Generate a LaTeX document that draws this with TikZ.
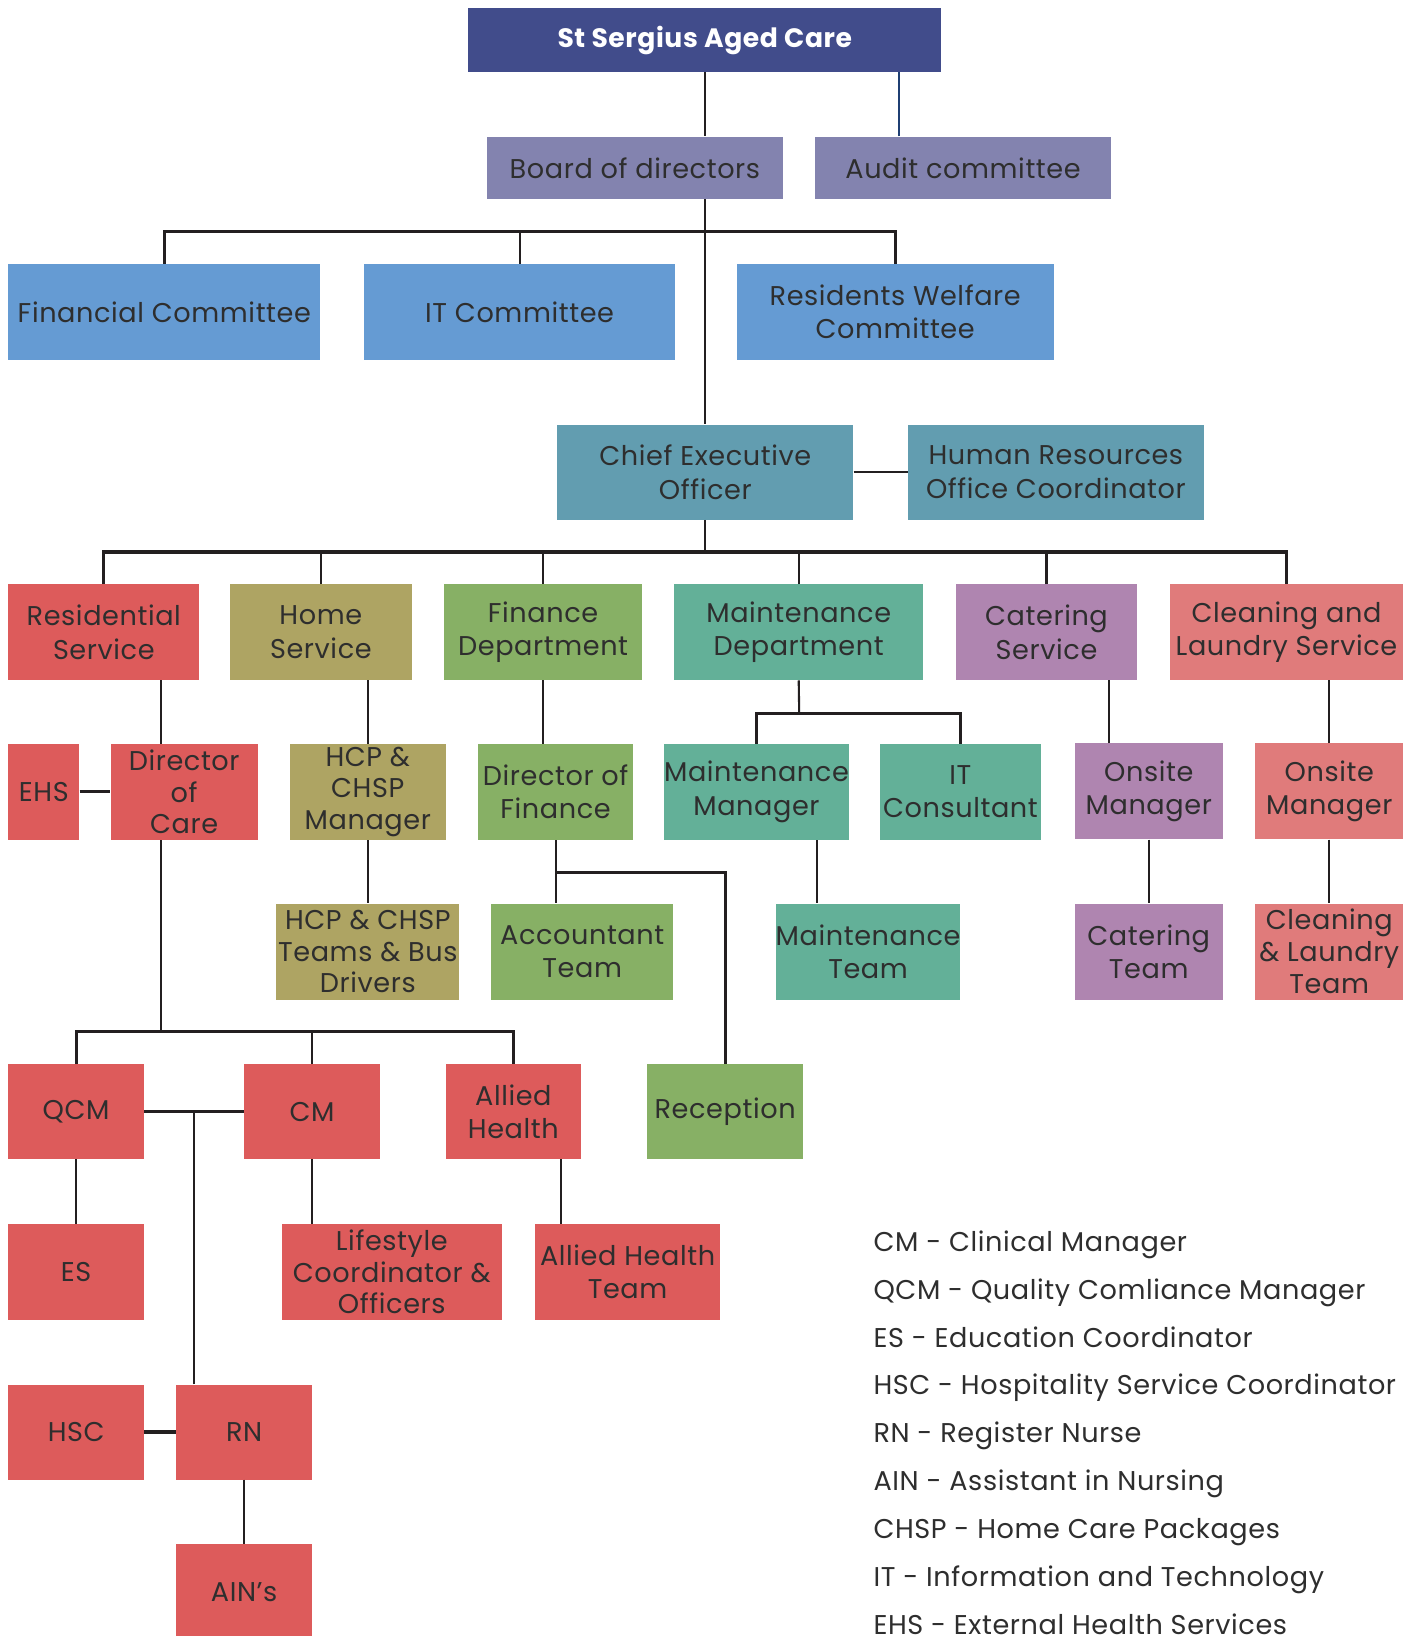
\documentclass[tikz,border=0pt]{standalone}
\usepackage{fontspec}
\setmainfont[LetterSpace=2.2]{Poppins}
\usetikzlibrary{calc}
\definecolor{cTitle}{HTML}{414C8B}
\definecolor{cBoard}{HTML}{8383AF}
\definecolor{cComm}{HTML}{659BD3}
\definecolor{cCeo}{HTML}{629DB0}
\definecolor{cRed}{HTML}{DD5B5B}
\definecolor{cHome}{HTML}{AEA463}
\definecolor{cGreen}{HTML}{87B065}
\definecolor{cMaint}{HTML}{63B098}
\definecolor{cCat}{HTML}{AF85B0}
\definecolor{cClean}{HTML}{E07B7B}
\definecolor{cLine}{HTML}{231F20}
\definecolor{cText}{HTML}{2E2E2E}
\definecolor{cAud}{HTML}{1F3F73}
\tikzset{
  box/.style={draw=none, inner sep=0pt, align=center, text=cText,
    font=\fontsize{26}{32}\selectfont},
  three/.style={font=\fontsize{26}{30.5}\selectfont},
  conn/.style={draw=cLine, line width=2},
  barline/.style={draw=cLine, line width=3},
  legend/.style={anchor=base west, inner sep=0pt, text=cText,
    font=\fontsize{26}{30}\selectfont},
}
\begin{document}
\begin{tikzpicture}[x=1pt, y=-1pt]
\useasboundingbox (0,0) rectangle (1355,1568);
\fill[white] (0,0) rectangle (1355,1568);
% top
\node[box, fill=cTitle, text=white, minimum width=453, minimum height=61, font=\fontsize{25.5}{30}\selectfont\bfseries] (title) at (675.5,38.5) {\raisebox{-4pt}{St Sergius Aged Care}};
\node[box, fill=cBoard, minimum width=283, minimum height=60] (board) at (608.5,161) {Board of directors};
\node[box, fill=cBoard, minimum width=284, minimum height=60] (audit) at (923,161) {Audit committee};
\node[box, fill=cComm, minimum width=299, minimum height=92] (fin) at (157.5,299) {Financial Committee};
\node[box, fill=cComm, minimum width=298, minimum height=92] (itc) at (498,299) {IT Committee};
\node[box, fill=cComm, minimum width=304, minimum height=92] (rwc) at (858,299) {Residents Welfare\\Committee};
\node[box, fill=cCeo, minimum width=284, minimum height=91] (ceo) at (676,452.5) {Chief Executive\\Officer};
\node[box, fill=cCeo, minimum width=284, minimum height=91] (hr) at (1012,452.5) {Human Resources\\Office Coordinator};
% level 3
\node[box, fill=cRed, minimum width=183, minimum height=92] (res) at (99.5,606) {Residential\\Service};
\node[box, fill=cHome, minimum width=175, minimum height=92] (home) at (307.5,606) {Home\\Service};
\node[box, fill=cGreen, minimum width=189, minimum height=92] (findept) at (520.5,606) {Finance\\Department};
\node[box, fill=cMaint, minimum width=239, minimum height=92] (maint) at (765.5,606) {Maintenance\\Department};
\node[box, fill=cCat, minimum width=174, minimum height=92] (cat) at (1003,606) {Catering\\Service};
\node[box, fill=cClean, minimum width=224, minimum height=92] (clean) at (1233,606) {Cleaning and\\Laundry Service};
% level 4
\node[box, fill=cRed, minimum width=68, minimum height=92] (ehs) at (42,759) {EHS};
\node[box, three, fill=cRed, minimum width=141, minimum height=92] (doc) at (176.5,759) {Director\\of\\Care};
\node[box, three, fill=cHome, minimum width=149, minimum height=92] (hcpm) at (352.5,759) {HCP \&\\CHSP\\Manager};
\node[box, fill=cGreen, minimum width=149, minimum height=92] (dof) at (532.5,759) {Director of\\Finance};
\node[box, fill=cMaint, minimum width=174, minimum height=92] (mm) at (725,759) {Maintenance\\Manager};
\node[box, fill=cMaint, minimum width=155, minimum height=92] (itcons) at (920.5,759) {IT\\Consultant};
\node[box, fill=cCat, minimum width=142, minimum height=92] (om1) at (1101,758.5) {Onsite\\Manager};
\node[box, fill=cClean, minimum width=142, minimum height=92] (om2) at (1274,758.5) {Onsite\\Manager};
% level 5
\node[box, three, fill=cHome, minimum width=175, minimum height=92] (hcpt) at (352.5,912) {HCP \& CHSP\\Teams \& Bus\\Drivers};
\node[box, fill=cGreen, minimum width=174, minimum height=92] (acct) at (558,912) {Accountant\\Team};
\node[box, fill=cMaint, minimum width=174, minimum height=92] (mt) at (832,912) {Maintenance\\Team};
\node[box, fill=cCat, minimum width=142, minimum height=92] (ct) at (1101,912) {Catering\\Team};
\node[box, three, fill=cClean, minimum width=142, minimum height=92] (clt) at (1274,912) {Cleaning\\\& Laundry\\Team};
% level 6
\node[box, fill=cRed, minimum width=130, minimum height=91] (qcm) at (73,1065.5) {QCM};
\node[box, fill=cRed, minimum width=130, minimum height=91] (cm) at (299,1065.5) {CM};
\node[box, fill=cRed, minimum width=130, minimum height=91] (ah) at (492,1065.5) {Allied\\Health};
\node[box, fill=cGreen, minimum width=150, minimum height=91] (rec) at (695,1065.5) {Reception};
% level 7
\node[box, fill=cRed, minimum width=130, minimum height=92] (es) at (73,1219) {ES};
\node[box, three, fill=cRed, minimum width=211, minimum height=92] (life) at (375.5,1219) {Lifestyle\\Coordinator \&\\Officers};
\node[box, fill=cRed, minimum width=177, minimum height=92] (aht) at (601.5,1219) {Allied Health\\Team};
% level 8
\node[box, fill=cRed, minimum width=130, minimum height=91] (hsc) at (73,1372.5) {HSC};
\node[box, fill=cRed, minimum width=130, minimum height=91] (rn) at (234,1372.5) {RN};
\node[box, fill=cRed, minimum width=130, minimum height=92] (ain) at (234,1526) {AIN’s};
% coordinates
\coordinate (bar1) at (676,222);
\coordinate (bar2) at (676,529);
\coordinate (bar3) at (154,989);
\coordinate (bar4) at (766,684);
\coordinate (br) at (533,836);
% connectors
\draw[conn] (title.south -| ceo.north) -- (board.north -| ceo.north);
\draw[draw=cAud, line width=2] ([xshift=-61]audit.north) coordinate (a1) -- (a1 |- title.south);
\draw[conn] (board.south -| ceo.north) -- (ceo.north);
\draw[barline] (fin.north) |- (bar1) -| (rwc.north);
\draw[conn] (itc.north) -- (itc.north |- bar1);
\draw[conn] (ceo.east) -- (hr.west);
\draw[conn] (ceo.south) -- (bar2);
\draw[barline] (res.north) |- (bar2) -| (clean.north);
\draw[conn] (home.north) -- (home.north |- bar2);
\draw[conn] (findept.north) -- (findept.north |- bar2);
\draw[conn] (maint.north) -- (maint.north |- bar2);
\draw[conn] (cat.north) -- (cat.north |- bar2);
% residential
\draw[conn] ([xshift=54.5]res.south) coordinate (r1) -- (r1 |- doc.north);
\draw[barline] (ehs.east) -- (doc.west);
\draw[conn] ([xshift=-22.5]doc.south) -- (bar3);
\draw[barline] (qcm.north) |- (bar3) -| (ah.north);
\draw[conn] (cm.north) -- (cm.north |- bar3);
\draw[barline] (qcm.east) -- (cm.west);
\draw[conn] ([xshift=-48]rn.north) coordinate (r2) -- (r2 |- qcm.east);
\draw[conn] (qcm.south) -- (es.north);
\draw[conn] (cm.south) -- (cm.south |- life.north);
\draw[conn] ([xshift=46]ah.south) coordinate (a2) -- (a2 |- aht.north);
\draw[barline] (hsc.east) -- (rn.west);
\draw[conn] (rn.south) -- (ain.north);
% home
\draw[conn] (hcpm.north) -- (hcpm.north |- home.south);
\draw[conn] (hcpm.south) -- (hcpt.north);
% finance
\draw[conn] (findept.south) -- (findept.south |- dof.north);
\draw[conn] (dof.south) -- (dof.south |- acct.north);
\draw[barline] (br) -| (rec.north);
% maintenance
\draw[conn] (maint.south) -- (bar4);
\draw[barline] (mm.north) |- (bar4) -| (itcons.north);
\draw[conn] ([xshift=58]mm.south) coordinate (m1) -- (m1 |- mt.north);
% catering
\draw[conn] ([xshift=-38]om1.north) coordinate (c1) -- (c1 |- cat.south);
\draw[conn] (om1.south) -- (ct.north);
% cleaning
\draw[conn] (om2.north) -- (om2.north |- clean.south);
\draw[conn] (om2.south) -- (clt.north);
% legend
\node[legend] (l1) at (837,1199) {CM - Clinical Manager};
\node[legend] (l2) at (837,1245) {QCM - Quality Comliance Manager};
\node[legend] (l3) at (837,1291) {ES - Education Coordinator};
\node[legend] (l4) at (837,1337) {HSC - Hospitality Service Coordinator};
\node[legend] (l5) at (837,1383) {RN - Register Nurse};
\node[legend] (l6) at (837,1429) {AIN - Assistant in Nursing};
\node[legend] (l7) at (837,1475) {CHSP - Home Care Packages};
\node[legend] (l8) at (837,1521) {IT - Information and Technology};
\node[legend] (l9) at (837,1567) {EHS - External Health Services};
\end{tikzpicture}
\end{document}
